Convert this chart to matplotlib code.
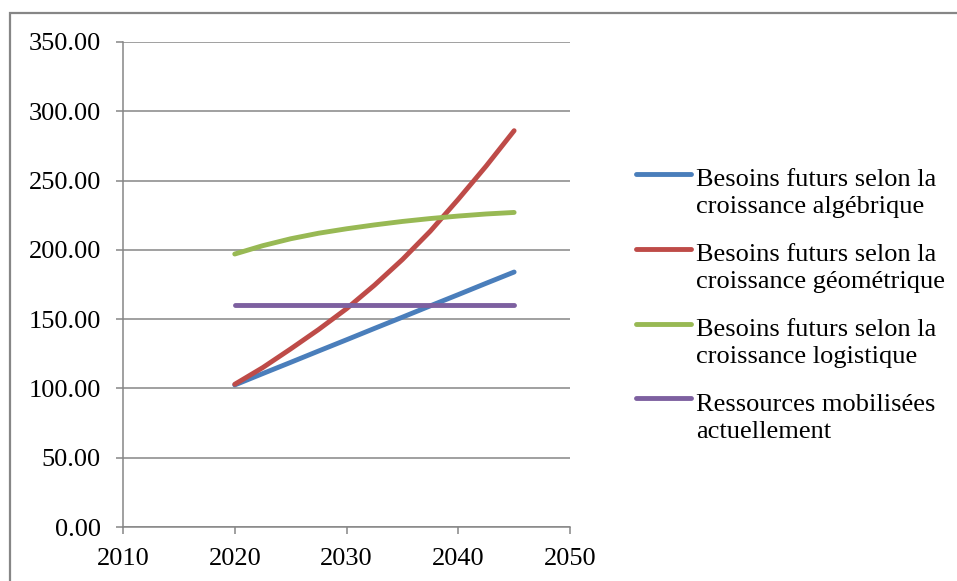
import numpy as np
import matplotlib
matplotlib.use("Agg")
import matplotlib.pyplot as plt
from matplotlib.legend_handler import HandlerLine2D
from matplotlib.patches import Rectangle

plt.rcParams['font.family'] = ['Liberation Serif', 'DejaVu Serif']

# donnees
annees = [2020, 2022.5, 2025, 2027.5, 2030, 2032.5, 2035, 2037.5, 2040, 2042.5, 2045]
algebrique = [102.5, 110.7, 118.8, 127.0, 135.1, 143.3, 151.4, 159.6, 167.7, 175.9, 184.0]
geometrique = [103.0, 115.0, 128.5, 142.5, 157.5, 174.5, 193.0, 213.5, 236.5, 260.5, 286.0]
logistique = [197.0, 203.0, 208.0, 212.0, 215.2, 218.0, 220.5, 222.6, 224.4, 225.9, 227.0]
ressources = [160.0] * len(annees)

noms = ["Besoins futurs selon la\ncroissance algébrique",
        "Besoins futurs selon la\ncroissance géométrique",
        "Besoins futurs selon la\ncroissance logistique",
        "Ressources mobilisées\nactuellement"]
couleurs = ["#4A7EBB", "#BE4B48", "#98B954", "#7D60A0"]

W, H = 957, 581
gris = "#868686"


class LigneHaute(HandlerLine2D):
    # aligne le trait de la legende sur la premiere ligne du texte
    decal = 0.0

    def create_artists(self, legend, orig_handle, xdescent, ydescent,
                       width, height, fontsize, trans):
        arts = super().create_artists(legend, orig_handle, xdescent, ydescent,
                                      width, height, fontsize, trans)
        for a in arts:
            a.set_ydata(np.asarray(a.get_ydata()) + self.decal * fontsize)
        return arts


fig = plt.figure(figsize=(W / 100, H / 100), dpi=100)
fig.patches.append(Rectangle((10 / W, -0.1), 1.2, 1 - 13 / H + 0.1,
                             transform=fig.transFigure, fill=False,
                             edgecolor=gris, linewidth=1.6))

ax = fig.add_axes([123 / W, 1 - 527 / H, (570 - 123) / W, (527 - 42) / H])

series = [algebrique, geometrique, logistique, ressources]
for vals, nom, c in zip(series, noms, couleurs):
    ax.plot(annees, vals, color=c, lw=3.5, label=nom,
            solid_capstyle='round', solid_joinstyle='round')

ax.set_xlim(2010, 2050)
ax.set_ylim(0, 350)
ax.set_xticks([2010, 2020, 2030, 2040, 2050])
ax.set_yticks(np.arange(0, 351, 50))
ax.yaxis.set_major_formatter(matplotlib.ticker.FormatStrFormatter('%.2f'))
ax.grid(axis='y', color=gris, lw=1.1)
ax.set_axisbelow(True)
for s in ['top', 'right']:
    ax.spines[s].set_visible(False)
for s in ['left', 'bottom']:
    ax.spines[s].set_color(gris)
    ax.spines[s].set_linewidth(1.1)
ax.tick_params(axis='both', colors=gris, labelcolor='black', labelsize=19,
               length=5, width=1.1, direction='out')
ax.tick_params(axis='y', pad=11)
ax.tick_params(axis='x', pad=10)

LigneHaute.decal = 0.72
leg = ax.legend(loc='upper left', bbox_to_anchor=(636 / W, 1 - 169 / H),
                bbox_transform=fig.transFigure, frameon=False, fontsize=19,
                handlelength=2.08, handletextpad=0.2, labelspacing=1.0,
                borderpad=0, borderaxespad=0,
                handler_map={plt.Line2D: LigneHaute()})
for t in leg.get_texts():
    t.set_linespacing(1.27)

fig.savefig("out.png", dpi=100)
